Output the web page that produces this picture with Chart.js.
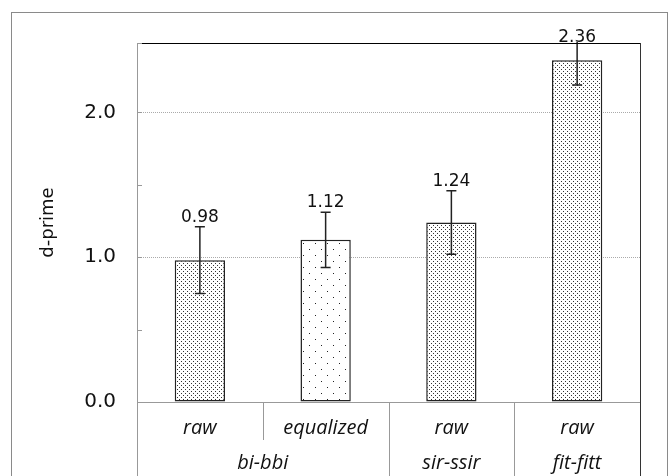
<!DOCTYPE html>
<html>
<head>
<meta charset="utf-8">
<script src="https://cdn.jsdelivr.net/npm/chart.js@4.4.0/dist/chart.umd.min.js"></script>
<style>
  html, body { margin: 0; padding: 0; background: #fff; }
</style>
</head>
<body>
<canvas id="chart" width="669" height="476"></canvas>
<script>
// data
var subLabels = ['raw', 'equalized', 'raw', 'raw'];
var groupLabels = ['bi-bbi', 'sir-ssir', 'fit-fitt'];
var groupSizes = [2, 1, 1];
var dprime = [0.98, 1.12, 1.24, 2.36];
var dprimeErr = [0.23, 0.19, 0.22, 0.17];
var valueLabels = ['0.98', '1.12', '1.24', '2.36'];
var yTickValues = [0, 0.5, 1, 1.5, 2, 2.48];
var yMax = 2.48;

var canvas = document.getElementById('chart');
var ctx = canvas.getContext('2d');

function dotPattern(w, h, pts, color) {
    var tile = document.createElement('canvas');
    tile.width = w;
    tile.height = h;
    var g = tile.getContext('2d');
    g.fillStyle = '#fff';
    g.fillRect(0, 0, w, h);
    g.fillStyle = color;
    pts.forEach(function(p) { g.fillRect(p[0], p[1], 1, 1); });
    return ctx.createPattern(tile, 'repeat');
}

var dense = dotPattern(4, 4, [[1, 1], [3, 3]], '#333');
var sparse = dotPattern(12, 12, [[3, 3], [9, 9]], '#222');

var decor = {
    id: 'decor',
    afterDatasetsDraw: function(chart) {
        var c = chart.ctx;
        var y = chart.scales.y;
        var area = chart.chartArea;
        var meta = chart.getDatasetMeta(0);
        c.save();
        c.strokeStyle = '#222';
        c.lineWidth = 1.5;
        meta.data.forEach(function(bar, i) {
            var top = y.getPixelForValue(dprime[i] + dprimeErr[i]);
            var bot = y.getPixelForValue(dprime[i] - dprimeErr[i]);
            var clipped = top < area.top;
            var t = clipped ? area.top - 1 : top;
            c.beginPath();
            c.moveTo(bar.x, t);
            c.lineTo(bar.x, bot);
            if (!clipped) {
                c.moveTo(bar.x - 5, top);
                c.lineTo(bar.x + 5, top);
            }
            c.moveTo(bar.x - 5, bot);
            c.lineTo(bar.x + 5, bot);
            c.stroke();

            c.fillStyle = '#111';
            c.font = '17px "DejaVu Sans"';
            c.textAlign = 'center';
            c.textBaseline = 'alphabetic';
            c.fillText(valueLabels[i], bar.x, Math.max(top, area.top + 4) - 5);
        });
        c.restore();
    },
    afterDraw: function(chart) {
        var c = chart.ctx;
        var x = chart.scales.x, y = chart.scales.y;
        var a = chart.chartArea;
        var H = chart.height;
        c.save();
        c.lineWidth = 1;

        // outer frame
        c.strokeStyle = '#8a8a8a';
        c.strokeRect(11.5, 12.5, 656, 480);

        // plot frame
        c.strokeStyle = '#000';
        c.beginPath();
        c.moveTo(a.left, a.top + 0.5);
        c.lineTo(a.right + 0.5, a.top + 0.5);
        c.stroke();
        c.strokeStyle = '#333';
        c.beginPath();
        c.moveTo(a.right + 0.5, a.top);
        c.lineTo(a.right + 0.5, H);
        c.stroke();
        c.strokeStyle = '#999';
        c.beginPath();
        c.moveTo(a.left + 0.5, a.top);
        c.lineTo(a.left + 0.5, H);
        c.moveTo(a.left, a.bottom + 0.5);
        c.lineTo(a.right, a.bottom + 0.5);
        c.stroke();

        // inward y tick marks
        yTickValues.forEach(function(v) {
            var py = Math.round(y.getPixelForValue(v)) + 0.5;
            c.beginPath();
            c.moveTo(a.left, py);
            c.lineTo(a.left + 5, py);
            c.stroke();
        });

        // category separators and group labels
        var half = (x.getPixelForValue(1) - x.getPixelForValue(0)) / 2;
        var idx = 0;
        c.fillStyle = '#111';
        c.font = 'italic 20px "Open Sans"';
        c.textAlign = 'center';
        c.textBaseline = 'middle';
        groupSizes.forEach(function(n, g) {
            var left = x.getPixelForValue(idx) - half;
            var right = x.getPixelForValue(idx + n - 1) + half;
            for (var k = 1; k < n; k++) {
                var px = Math.round(x.getPixelForValue(idx + k) - half) + 0.5;
                c.beginPath();
                c.moveTo(px, a.bottom);
                c.lineTo(px, 440);
                c.stroke();
            }
            if (g > 0) {
                var gx = Math.round(left) + 0.5;
                c.beginPath();
                c.moveTo(gx, a.bottom);
                c.lineTo(gx, H);
                c.stroke();
            }
            c.fillText(groupLabels[g], (left + right) / 2, 463);
            idx += n;
        });
        c.restore();
    }
};

new Chart(ctx, {
    type: 'bar',
    data: {
        labels: subLabels,
        datasets: [{
            label: 'd-prime',
            data: dprime,
            backgroundColor: [dense, sparse, dense, dense],
            borderColor: '#222',
            borderWidth: 1.5,
            borderSkipped: false,
            categoryPercentage: 1,
            barPercentage: 0.4
        }]
    },
    options: {
        responsive: false,
        devicePixelRatio: 1,
        animation: false,
        layout: { padding: { top: 43, right: 29, bottom: 0, left: 0 } },
        plugins: {
            legend: { display: false },
            tooltip: { enabled: false }
        },
        scales: {
            x: {
                grid: { display: false, drawTicks: false },
                border: { display: false },
                ticks: {
                    padding: 14,
                    color: '#111',
                    font: { family: 'Open Sans', size: 20, style: 'italic' }
                },
                afterFit: function(scale) { scale.height = 74; }
            },
            y: {
                min: 0,
                max: yMax,
                afterBuildTicks: function(scale) {
                    scale.ticks = yTickValues.map(function(v) { return { value: v }; });
                },
                grid: {
                    drawTicks: false,
                    color: function(c) {
                        var v = c.tick && c.tick.value;
                        return (v === 1 || v === 2) ? '#aaa' : 'rgba(0,0,0,0)';
                    }
                },
                border: { display: false, dash: [1, 1] },
                ticks: {
                    padding: 21,
                    color: '#111',
                    font: { family: 'DejaVu Sans', size: 20 },
                    callback: function(v) { return v % 1 === 0 ? v.toFixed(1) : ''; }
                },
                title: {
                    display: true,
                    text: 'd-prime',
                    color: '#111',
                    font: { family: 'DejaVu Sans', size: 18 },
                    padding: { top: 38, bottom: 0 }
                },
                afterFit: function(scale) { scale.width = 137; }
            }
        }
    },
    plugins: [decor]
});
</script>
</body>
</html>
